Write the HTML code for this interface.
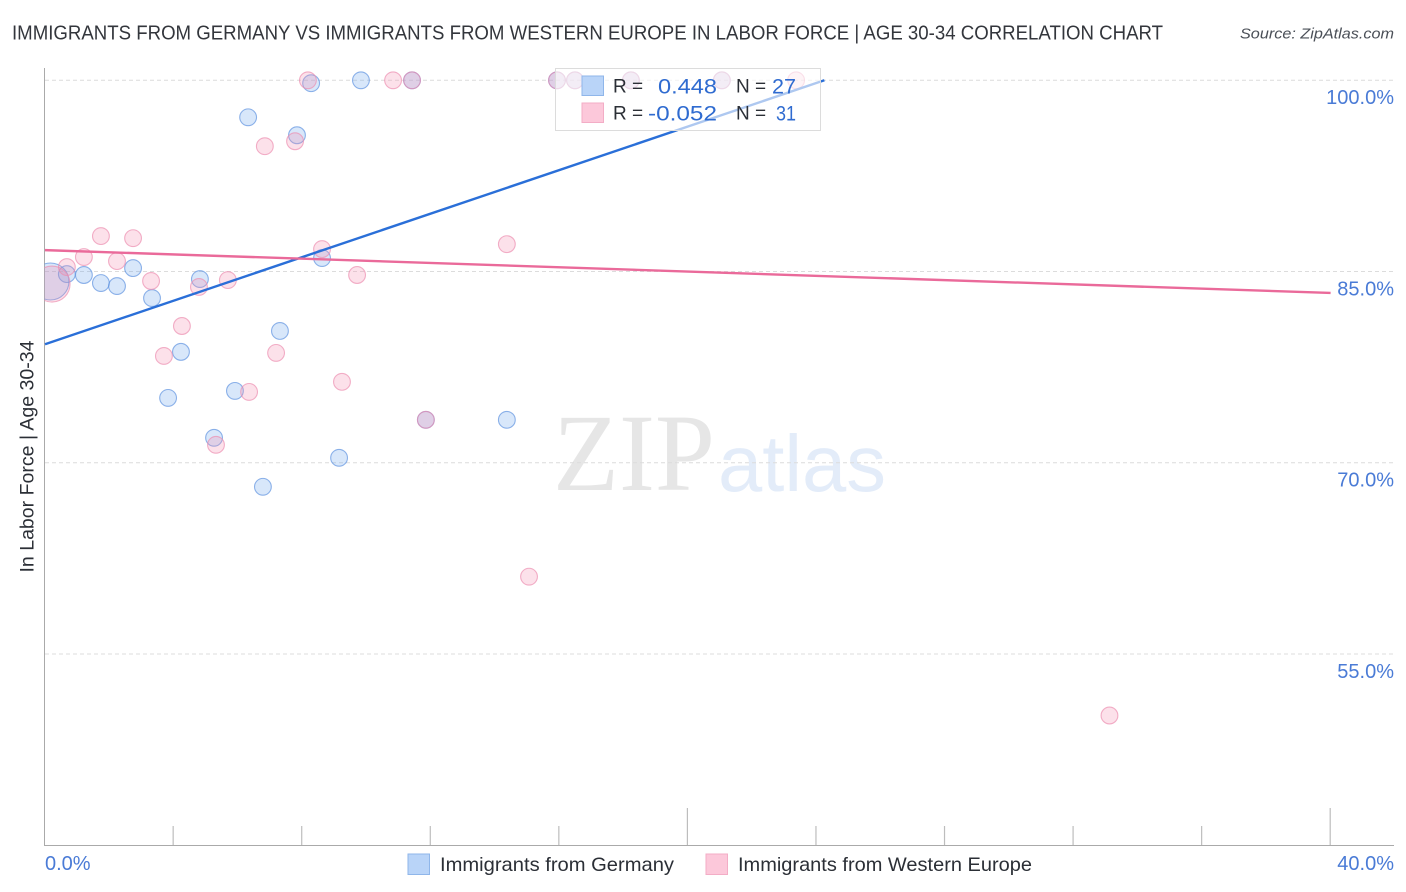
<!DOCTYPE html>
<html lang="en">
<head>
<meta charset="utf-8">
<title>Immigrants from Germany vs Immigrants from Western Europe in Labor Force | Age 30-34 Correlation Chart</title>
<style>
html,body{margin:0;padding:0;background:#fff;width:1406px;height:892px;overflow:hidden}
svg{display:block;font-family:"Liberation Sans",sans-serif}
</style>
</head>
<body>
<svg id="chart" width="1406" height="892" viewBox="0 0 1406 892" xmlns="http://www.w3.org/2000/svg">
  <defs>
    <clipPath id="plot-clip"><rect x="44.5" y="60" width="1350" height="786"/></clipPath>
  </defs>
  <rect width="1406" height="892" fill="#ffffff"/>
  <text x="12" y="39.5" font-size="20" fill="#33363c" textLength="1151" lengthAdjust="spacingAndGlyphs">IMMIGRANTS FROM GERMANY VS IMMIGRANTS FROM WESTERN EUROPE IN LABOR FORCE | AGE 30-34 CORRELATION CHART</text>
  <text x="1394" y="38.5" font-size="15" font-style="italic" fill="#4a4f57" text-anchor="end" textLength="154" lengthAdjust="spacingAndGlyphs">Source: ZipAtlas.com</text>

  <g>
    <text x="553" y="490" font-size="110" fill="#e6e6e6" textLength="162" lengthAdjust="spacingAndGlyphs" style="font-family:'Liberation Serif',serif">ZIP</text>
    <text x="718" y="491" font-size="80" fill="#e3ecf9" textLength="168" lengthAdjust="spacingAndGlyphs">atlas</text>
  </g>

  <g id="grid"></g>
  <g id="axes"></g>
  <g id="points" clip-path="url(#plot-clip)"></g>
  <g id="trends"></g>

  <g>
    <rect x="555.5" y="68.5" width="265" height="62" fill="#ffffff" fill-opacity="0.62" stroke="#dcdcdc" stroke-width="1"/>
    <rect x="582" y="76" width="21.5" height="19.5" fill="#b9d4f8" stroke="#8fb6ea" stroke-width="1"/>
    <rect x="582" y="103" width="21.5" height="19.5" fill="#fcc8da" stroke="#f3adc6" stroke-width="1"/>
    <text x="613" y="92.5" font-size="19" fill="#2b2f36">R =</text>
    <text x="717" y="93.5" font-size="21.5" fill="#2f6bd0" text-anchor="end" textLength="59" lengthAdjust="spacingAndGlyphs">0.448</text>
    <text x="736" y="92.5" font-size="19" fill="#2b2f36">N =</text>
    <text x="796" y="93.5" font-size="21.5" fill="#2f6bd0" text-anchor="end" textLength="24" lengthAdjust="spacingAndGlyphs">27</text>
    <text x="613" y="119.5" font-size="19" fill="#2b2f36">R =</text>
    <text x="717" y="120.5" font-size="21.5" fill="#2f6bd0" text-anchor="end" textLength="69" lengthAdjust="spacingAndGlyphs">-0.052</text>
    <text x="736" y="119.5" font-size="19" fill="#2b2f36">N =</text>
    <text x="796" y="120.5" font-size="21.5" fill="#2f6bd0" text-anchor="end" textLength="20" lengthAdjust="spacingAndGlyphs">31</text>
  </g>

  <text transform="translate(33.5,456.5) rotate(-90)" font-size="19" fill="#2b2f36" text-anchor="middle" textLength="232" lengthAdjust="spacingAndGlyphs">In Labor Force | Age 30-34</text>

  <g>
    <rect x="408" y="854" width="21.5" height="20.5" fill="#b9d4f8" stroke="#8fb6ea" stroke-width="1"/>
    <text x="440" y="871" font-size="19.5" fill="#2b2f36" textLength="234" lengthAdjust="spacingAndGlyphs">Immigrants from Germany</text>
    <rect x="706" y="854" width="21.5" height="20.5" fill="#fcc8da" stroke="#f3adc6" stroke-width="1"/>
    <text x="738" y="871" font-size="19.5" fill="#2b2f36" textLength="294" lengthAdjust="spacingAndGlyphs">Immigrants from Western Europe</text>
  </g>
</svg>
<script>
const germanyX = [0.17,0.68,1.21,1.74,2.24,2.74,3.33,4.23,3.83,4.82,5.91,5.26,6.78,7.31,6.32,7.84,8.28,8.62,9.15,9.83,11.42,11.85,14.37,15.93,16.49,18.23,21.06];
const germanyY = [84.22,84.80,84.73,84.10,83.86,85.27,82.92,78.70,75.09,84.41,75.64,71.96,68.12,80.34,97.10,95.69,99.77,86.06,70.39,100,100,73.37,73.37,100,100,100,100];
const westernX = [0.22,0.68,1.21,1.74,2.24,2.74,3.30,3.70,4.26,4.79,5.69,5.32,6.35,7.19,6.84,7.78,8.18,8.62,9.71,9.24,10.83,11.42,11.85,14.37,15.06,33.12,15.93,16.49,18.23,21.06,23.37];
const westernY = [84.02,85.35,86.14,87.78,85.82,87.62,84.26,78.38,80.73,83.79,84.33,71.41,75.56,78.62,94.83,95.22,100,86.76,84.73,76.35,100,100,73.37,87.15,61.07,50.18,100,100,100,100,100];
const germanyTrendX = [0, 24.25];
const germanyTrendY = [79.3, 100];
const westernTrendX = [0, 40];
const westernTrendY = [86.68, 83.32];
const yTickValues = [100, 85, 70, 55];
const yTickLabels = ['100.0%', '85.0%', '70.0%', '55.0%'];
const xTickValues = [4, 8, 12, 16, 20, 24, 28, 32, 36, 40];
const xMajorTicks = [20, 40];
const xEndValues = [0, 40];
const xEndLabels = ['0.0%', '40.0%'];

const NS = 'http://www.w3.org/2000/svg';
function xScale(v) { return 45 + v * 32.14; }
function yScale(v) { return 80.3 + (100 - v) * 12.75; }
function make(tag, parent, attrs) {
  const el = document.createElementNS(NS, tag);
  for (const k in attrs) el.setAttribute(k, attrs[k]);
  parent.appendChild(el);
  return el;
}

const grid = document.getElementById('grid');
const axes = document.getElementById('axes');
const points = document.getElementById('points');
const trends = document.getElementById('trends');

yTickValues.forEach(function (v, i) {
  const y = yScale(v);
  const line = make('line', grid, {x1: 45, x2: 1394, y1: y, y2: y, stroke: '#dcdcdc', 'stroke-width': 1, 'stroke-dasharray': '4 3'});
  
  
  const label = make('text', axes, {x: 1394, y: y + 23.7, 'font-size': 20, fill: '#4a7bd6', 'text-anchor': 'end'});
  label.textContent = yTickLabels[i];
  
  
});

const yAxisLine = make('line', axes, {x1: 44.5, x2: 44.5, y1: 68, y2: 846, stroke: '#aaaaaa', 'stroke-width': 1});


const xAxisLine = make('line', axes, {x1: 44, x2: 1394, y1: 845.5, y2: 845.5, stroke: '#aaaaaa', 'stroke-width': 1});



xTickValues.forEach(function (v) {
  const x = xScale(v) - 0.4;
  const top = xMajorTicks.indexOf(v) >= 0 ? 808 : 826;
  const tick = make('line', axes, {x1: x, x2: x, y1: top, y2: 845, stroke: '#bdbdbd', 'stroke-width': 1.2});
  
  
});

xEndValues.forEach(function (v, i) {
  const label = make('text', axes, {x: i === 0 ? xScale(v) : 1394, y: 870, 'font-size': 20, fill: '#4a7bd6', 'text-anchor': i === 0 ? 'start' : 'end'});
  label.textContent = xEndLabels[i];
  
  
});

function drawSeries(xs, ys, fill, stroke, firstRadius) {
  xs.forEach(function (v, i) {
    const dot = make('circle', points, {
      cx: xScale(v), cy: yScale(ys[i]), r: i === 0 ? firstRadius : 8.4,
      fill: fill, 'fill-opacity': 0.27, stroke: stroke, 'stroke-opacity': 0.7, 'stroke-width': 1.1
    });
    
    
  });
}
drawSeries(germanyX, germanyY, '#6ea6ee', '#5f93e0', 18.5);
drawSeries(westernX, westernY, '#f48fb1', '#ec8fb0', 18);

function drawTrend(xs, ys, color, name) {
  const t = make('line', trends, {
    x1: xScale(xs[0]), y1: yScale(ys[0]), x2: xScale(xs[1]), y2: yScale(ys[1]),
    stroke: color, 'stroke-width': 2.4
  });
  
  
}
drawTrend(germanyTrendX, germanyTrendY, '#2a6fd8', 'trend-line-germany');
drawTrend(westernTrendX, westernTrendY, '#ea6a9a', 'trend-line-western-europe');
</script>
</body>
</html>
